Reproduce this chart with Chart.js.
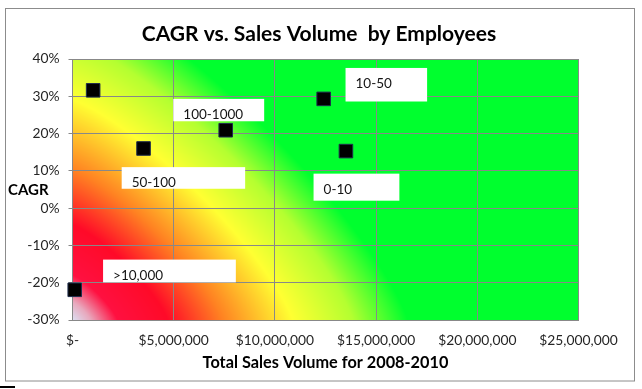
<!DOCTYPE html>
<html><head><meta charset="utf-8">
<script src="https://cdn.jsdelivr.net/npm/chart.js@4/dist/chart.umd.min.js"></script>
<style>html,body{margin:0;padding:0;background:#fff}#wrap{width:642px;height:389px}</style>
</head><body><div id="wrap"><canvas id="c" width="642" height="389"></canvas></div>
<script>
// ---- data ----
const employeeGroups = ['', '50-100', '100-1000', '10-50', '0-10', '>10,000'];
const salesVolume = [1020000, 3510000, 7570000, 12410000, 13510000, 110000];
const cagr = [31.6, 16.0, 20.9, 29.3, 15.3, -21.9];
const xTickValues = [0, 5000000, 10000000, 15000000, 20000000, 25000000];
const yTickValues = [-30, -20, -10, 0, 10, 20, 30, 40];

// callout labels (text boxes), corners given in data units
const calloutText = ['10-50', '100-1000', '50-100', '0-10', '>10,000'];
const calloutLeft = [13490000, 4980000, 2430000, 11910000, 1510000];
const calloutRight = [17520000, 9470000, 8530000, 16150000, 8070000];
const calloutTop = [37.6, 29.3, 11.0, 9.25, -13.8];
const calloutBottom = [28.6, 23.3, 5.2, 2.0, -19.9];
const calloutTextY = [33.3, 25.1, 6.8, 5.0, -18.1];

const chartTitle = 'CAGR vs. Sales Volume  by Employees';
const xTitle = 'Total Sales Volume for 2008-2010';
const yTitle = 'CAGR';

function fmtMoney(v) {
  if (v === 0) return '$-';
  return '$' + Math.round(v).toLocaleString('en-US');
}

// background "from corner" gradient colour stops (distance in px from bottom-left corner)
const bgStops = [
  [0, [220, 223, 242]],
  [18, [232, 168, 189]],
  [45, [255, 16, 64]],
  [95, [255, 10, 40]],
  [150, [255, 130, 34]],
  [220, [255, 255, 50]],
  [280, [180, 255, 48]],
  [335, [0, 255, 46]]
];
function bgColor(d) {
  if (d <= bgStops[0][0]) return bgStops[0][1];
  for (let i = 1; i < bgStops.length; i++) {
    if (d <= bgStops[i][0]) {
      const [d0, c0] = bgStops[i - 1], [d1, c1] = bgStops[i];
      const t = (d - d0) / (d1 - d0);
      return [0, 1, 2].map(k => c0[k] + (c1[k] - c0[k]) * t);
    }
  }
  return bgStops[bgStops.length - 1][1];
}

const decor = {
  id: 'decor',
  beforeDraw(chart) {
    const ctx = chart.ctx, a = chart.chartArea;
    ctx.save();
    ctx.fillStyle = '#ffffff';
    ctx.fillRect(0, 0, chart.width, chart.height);
    const L = Math.floor(a.left), T = Math.floor(a.top);
    const W = Math.ceil(a.right) - L, H = Math.ceil(a.bottom) - T;
    const img = ctx.createImageData(W, H);
    const p = 1.25;
    for (let j = 0; j < H; j++) {
      const dy = Math.max(0, a.bottom - (T + j + 0.5));
      for (let i = 0; i < W; i++) {
        const dx = Math.max(0, L + i + 0.5 - a.left);
        const d = Math.pow(Math.pow(dx, p) + Math.pow(dy, p), 1 / p);
        const c = bgColor(d);
        const o = (j * W + i) * 4;
        img.data[o] = c[0]; img.data[o + 1] = c[1]; img.data[o + 2] = c[2]; img.data[o + 3] = 255;
      }
    }
    ctx.putImageData(img, L, T);
    ctx.restore();
  },
  afterDatasetsDraw(chart) {
    const ctx = chart.ctx, xs = chart.scales.x, ys = chart.scales.y;
    ctx.save();
    for (let i = 0; i < calloutText.length; i++) {
      const x0 = xs.getPixelForValue(calloutLeft[i]);
      const x1 = xs.getPixelForValue(calloutRight[i]);
      const y0 = ys.getPixelForValue(calloutTop[i]);
      const y1 = ys.getPixelForValue(calloutBottom[i]);
      ctx.fillStyle = '#ffffff';
      ctx.fillRect(x0, y0, x1 - x0, y1 - y0);
      ctx.fillStyle = '#141414';
      ctx.font = '13.5px Lato';
      ctx.textAlign = 'left';
      ctx.textBaseline = 'middle';
      ctx.fillText(calloutText[i], x0 + 10, ys.getPixelForValue(calloutTextY[i]));
    }
    ctx.restore();
  },
  afterDraw(chart) {
    const ctx = chart.ctx, a = chart.chartArea;
    ctx.save();
    ctx.fillStyle = '#000000';
    ctx.textBaseline = 'middle';
    ctx.textAlign = 'center';
    ctx.font = 'bold 21px Lato';
    ctx.fillText(chartTitle, 319, 34);
    ctx.font = 'bold 16.3px Lato';
    ctx.fillText(xTitle, (a.left + a.right) / 2, 363);
    ctx.textAlign = 'left';
    ctx.font = 'bold 15px Lato';
    ctx.fillText(yTitle, 8, 190);
    ctx.strokeStyle = '#8c8c8c';
    ctx.lineWidth = 1;
    ctx.strokeRect(5.5, 8.5, 629, 372.5);
    ctx.strokeStyle = '#000000';
    ctx.lineWidth = 2;
    ctx.beginPath(); ctx.moveTo(0, 387); ctx.lineTo(15, 387); ctx.stroke();
    ctx.restore();
  }
};

const gridColor = '#888888';
const tickFont = { family: 'Lato', size: 13.8 };

new Chart(document.getElementById('c'), {
  type: 'scatter',
  data: {
    datasets: [{
      label: 'CAGR',
      data: salesVolume.map((v, i) => ({ x: v, y: cagr[i], g: employeeGroups[i] })),
      pointStyle: 'rect',
      pointRadius: 9.6,
      pointHoverRadius: 9.6,
      backgroundColor: '#000000',
      borderColor: '#1f2d4d',
      borderWidth: 1,
      clip: false
    }]
  },
  options: {
    responsive: false,
    animation: false,
    devicePixelRatio: 1,
    layout: { padding: { left: 0, right: 63.5, top: 59, bottom: 0 } },
    plugins: { legend: { display: false }, tooltip: { enabled: false }, title: { display: false } },
    scales: {
      x: {
        type: 'linear', min: 0, max: 25000000,
        afterBuildTicks: s => { s.ticks = xTickValues.map(v => ({ value: v })); },
        afterFit: s => { s.height = 69; },
        ticks: { callback: v => fmtMoney(v), font: tickFont, color: '#262626', padding: 12, maxRotation: 0, autoSkip: false },
        grid: { color: gridColor, lineWidth: 1, drawTicks: false },
        border: { display: true, color: gridColor, width: 1 }
      },
      y: {
        type: 'linear', min: -30, max: 40,
        afterBuildTicks: s => { s.ticks = yTickValues.map(v => ({ value: v })); },
        afterFit: s => { s.width = 72.5; },
        ticks: { callback: v => v + '%', font: tickFont, color: '#262626', padding: 9, autoSkip: false },
        grid: { color: gridColor, lineWidth: 1, drawTicks: true, tickLength: 4 },
        border: { display: true, color: gridColor, width: 1 }
      }
    }
  },
  plugins: [decor]
});
</script>
</body></html>
